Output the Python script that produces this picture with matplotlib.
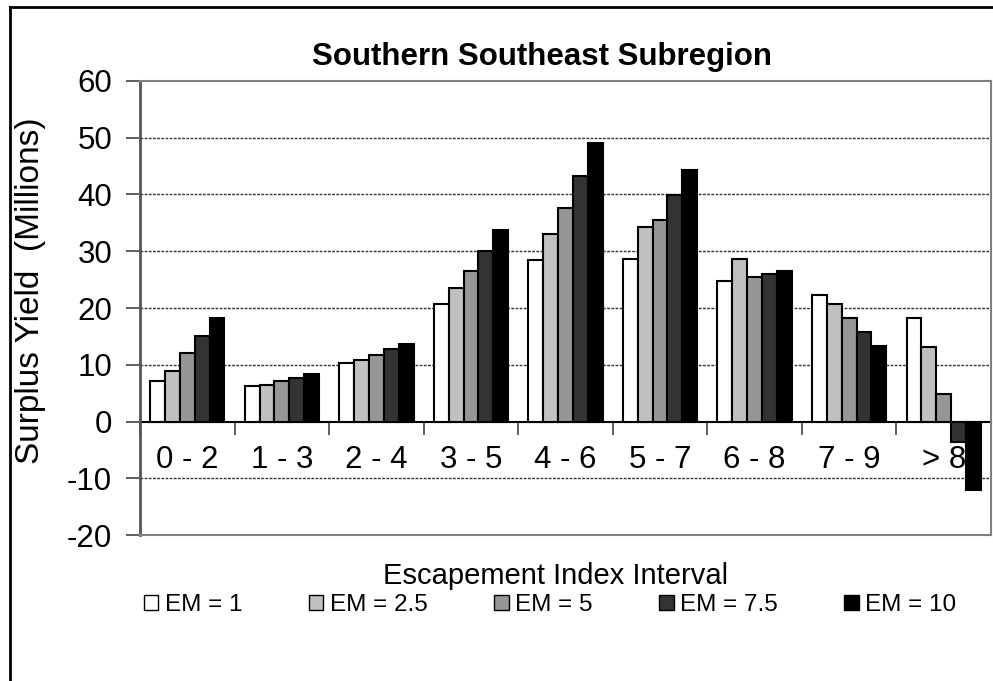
import numpy as np
import matplotlib.pyplot as plt
from matplotlib.patches import Patch
from matplotlib.lines import Line2D

plt.rcParams['font.family'] = ['Liberation Sans', 'DejaVu Sans']
plt.rcParams['axes.unicode_minus'] = False

# Data
intervals = ['0 - 2', '1 - 3', '2 - 4', '3 - 5', '4 - 6', '5 - 7', '6 - 8', '7 - 9', '> 8']
series_names = ['EM = 1', 'EM = 2.5', 'EM = 5', 'EM = 7.5', 'EM = 10']
em_1 = [7.2, 6.2, 10.4, 20.7, 28.4, 28.6, 24.8, 22.3, 18.2]
em_2_5 = [9.0, 6.5, 10.9, 23.6, 33.1, 34.3, 28.6, 20.7, 13.2]
em_5 = [12.0, 7.2, 11.8, 26.5, 37.6, 35.4, 25.5, 18.2, 4.8]
em_7_5 = [15.1, 7.6, 12.8, 30.1, 43.2, 39.8, 26.0, 15.7, -3.6]
em_10 = [18.2, 8.3, 13.7, 33.7, 49.0, 44.2, 26.5, 13.3, -12.0]
colors = ['#FFFFFF', '#C0C0C0', '#969696', '#333333', '#000000']

values = [em_1, em_2_5, em_5, em_7_5, em_10]

W, H = 993, 681
fig = plt.figure(figsize=(W / 100, H / 100), dpi=100)
ax = fig.add_axes([140 / W, 1 - 535.3 / H, (991 - 140) / W, (535.3 - 80.7) / H])

x = np.arange(len(intervals))
bw = 0.157
for i, (vals, c, name) in enumerate(zip(values, colors, series_names)):
    ax.bar(x + (i - 2) * bw, vals, width=bw, color=c, edgecolor='black',
           linewidth=1.5, label=name, zorder=3)

ax.set_xlim(-0.5, len(intervals) - 0.5)
ax.set_ylim(-20, 60)
ax.set_yticks(np.arange(-20, 61, 10))
ax.tick_params(axis='y', direction='out', length=10, width=1.2, color='#444444',
               labelsize=22.5, pad=10)
ax.set_xticks([])

# dashed gridlines
for yv in range(-10, 60, 10):
    if yv == 0:
        continue
    ax.axhline(yv, color='#333333', lw=1.0, ls=(0, (2, 1)), zorder=1)

for s in ['top', 'right', 'bottom']:
    ax.spines[s].set_color('#808080')
    ax.spines[s].set_linewidth(1.5)
ax.spines['left'].set_color('#555555')
ax.spines['left'].set_linewidth(2)

# category axis at zero
sec = ax.secondary_xaxis(0.25)
sec.spines['bottom'].set_color('black')
sec.spines['bottom'].set_linewidth(1.5)
sec.spines['bottom'].set_zorder(4)
sec.set_xticks(x)
sec.set_xticklabels(intervals, fontsize=22.5)
sec.set_xticks(np.arange(len(intervals) + 1) - 0.5, minor=True)
sec.tick_params(axis='x', which='major', length=0, pad=17)
sec.tick_params(axis='x', which='minor', length=9, width=1.2, color='#444444',
                direction='out')

fig.text(542 / W, 1 - 57 / H, 'Southern Southeast Subregion', fontsize=22.5,
         fontweight='bold', ha='center', va='center')
fig.text(31 / W, 1 - 291 / H, 'Surplus Yield  (Millions)', fontsize=24,
         rotation=90, ha='center', va='center')
fig.text(556 / W, 1 - 576 / H, 'Escapement Index Interval', fontsize=21,
         ha='center', va='center')

handles = [Patch(facecolor=c, edgecolor='black', linewidth=1.0) for c in colors]
fig.legend(handles, series_names, loc='center', bbox_to_anchor=(550 / W, 1 - 605 / H),
           ncol=5, frameon=False, fontsize=17.5, handlelength=0.6, handleheight=0.6,
           handletextpad=0.25, columnspacing=2.75, borderaxespad=0)

# outer chart border (cut off at right and bottom)
fig.add_artist(Line2D([10 / W, 10 / W], [0, 1 - 7 / H], color='black', lw=2,
                      transform=fig.transFigure))
fig.add_artist(Line2D([10 / W, 1], [1 - 7 / H, 1 - 7 / H], color='black', lw=2,
                      transform=fig.transFigure))

fig.savefig('out.png', dpi=100)
